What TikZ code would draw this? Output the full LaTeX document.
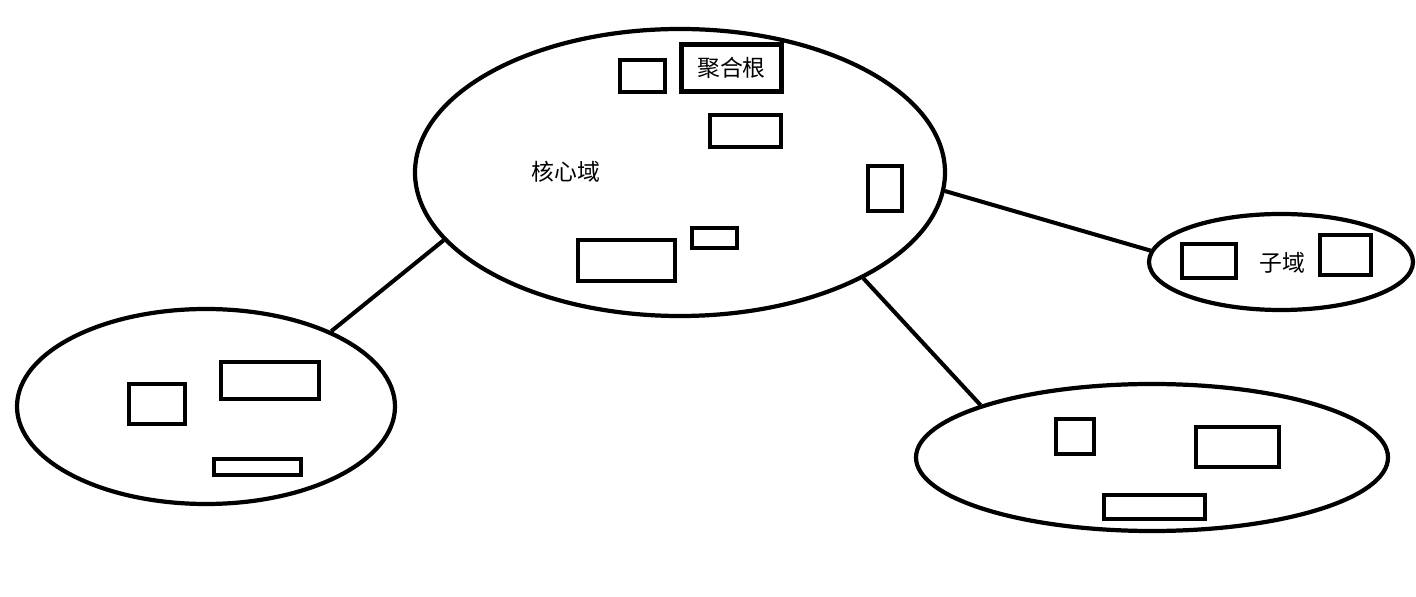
\documentclass[tikz,border=0pt]{standalone}
\usepackage{fontspec}
\setmainfont{Noto Sans CJK SC}
\usepackage{tikz}
\usetikzlibrary{positioning,shapes.geometric}

\begin{document}
\begin{tikzpicture}[
    dom/.style={ellipse, draw=black, line width=2.4pt, inner sep=0pt},
    ent/.style={rectangle, draw=black, line width=2.4pt, inner sep=0pt},
    lbl/.style={font=\fontsize{13pt}{15pt}\selectfont, text=black},
    link/.style={draw=black, line width=2.3pt}
]
    \useasboundingbox (0,0) rectangle (28.32,11.92);

    % Core domain
    \node[dom, minimum width=10.60cm, minimum height=5.74cm] (core) at (13.60,8.47) {};
    \node[lbl] (corelbl) at (11.32,8.48) {核心域};
    \node[ent, minimum width=0.90cm, minimum height=0.64cm] (c1) at (12.85,10.40) {};
    \node[ent, minimum width=2.00cm, minimum height=0.94cm, lbl] (agg) at (14.63,10.56) {聚合根};
    \node[ent, minimum width=1.42cm, minimum height=0.64cm] (c2) at (14.91,9.30) {};
    \node[ent, minimum width=0.68cm, minimum height=0.90cm] (c3) at (17.70,8.15) {};
    \node[ent, minimum width=0.90cm, minimum height=0.40cm] (c4) at (14.29,7.16) {};
    \node[ent, minimum width=1.94cm, minimum height=0.82cm] (c5) at (12.53,6.71) {};

    % Left domain
    \node[dom, minimum width=7.56cm, minimum height=3.90cm] (leftdom) at (4.12,3.79) {};
    \node[ent, minimum width=1.12cm, minimum height=0.80cm] (l1) at (3.14,3.84) {};
    \node[ent, minimum width=1.96cm, minimum height=0.74cm] (l2) at (5.40,4.31) {};
    \node[ent, minimum width=1.74cm, minimum height=0.32cm] (l3) at (5.15,2.58) {};

    % Subdomain
    \node[dom, minimum width=5.28cm, minimum height=1.92cm] (subdom) at (25.62,6.68) {};
    \node[ent, minimum width=1.08cm, minimum height=0.68cm] (s1) at (24.18,6.70) {};
    \node[lbl] (sublbl) at (25.64,6.66) {子域};
    \node[ent, minimum width=1.02cm, minimum height=0.80cm] (s2) at (26.91,6.82) {};

    % Lower domain
    \node[dom, minimum width=9.44cm, minimum height=2.94cm] (lowdom) at (23.04,2.77) {};
    \node[ent, minimum width=0.76cm, minimum height=0.70cm] (w1) at (21.50,3.19) {};
    \node[ent, minimum width=1.66cm, minimum height=0.80cm] (w2) at (24.75,2.98) {};
    \node[ent, minimum width=2.02cm, minimum height=0.48cm] (w3) at (23.09,1.78) {};

    % Links
    \draw[link] (core.196.5) -- (leftdom.31.3);
    \draw[link] (core.356.2) -- (subdom.175.4);
    \draw[link] (core.330.1) -- (lowdom.163.5);
\end{tikzpicture}
\end{document}
